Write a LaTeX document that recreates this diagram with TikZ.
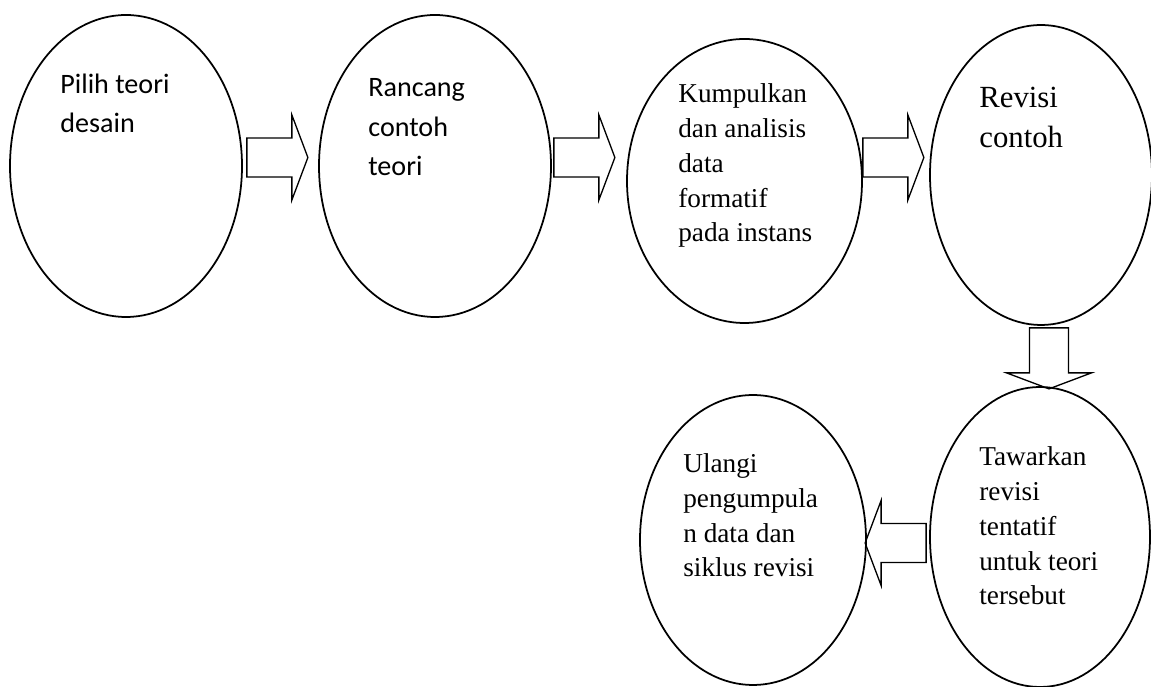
\documentclass[tikz,border=0pt]{standalone}
\usepackage{fontspec}
\setmainfont{Liberation Serif}
\newfontfamily\calibri{Carlito}
\usetikzlibrary{shapes.geometric,calc}

\tikzset{
  oval/.style={draw, ellipse, line width=1pt, inner sep=0pt},
  stepsans/.style={anchor=base west, align=left, inner sep=0pt, font=\calibri\fontsize{16}{22.5}\selectfont},
  stepserif/.style={anchor=base west, align=left, inner sep=0pt, font=\fontsize{15.5}{19.9}\selectfont},
  blockarrow/.style={draw, line width=0.75pt, line join=miter}
}
% hollow block arrow: start point, direction
\newcommand{\blockarr}[2]{%
  \begin{scope}[shift={(#1)}, rotate=#2]
    \draw[blockarrow] (0,0.39) -- (0.9,0.39) -- (0.9,0.85) -- (1.22,0) -- (0.9,-0.85) -- (0.9,-0.39) -- (0,-0.39) -- cycle;
  \end{scope}}

\begin{document}
\begin{tikzpicture}
\useasboundingbox (0,0) rectangle (23.02,13.74);
% steps
\node[oval, minimum width=4.64cm, minimum height=6.04cm] (e1) at (2.52,10.42) {};
\node[oval, minimum width=4.64cm, minimum height=6.04cm] (e2) at (8.70,10.42) {};
\node[oval, minimum width=4.70cm, minimum height=5.68cm] (e3) at (14.89,10.12) {};
\node[oval, minimum width=4.44cm, minimum height=6.00cm] (e4) at (20.82,10.24) {};
\node[oval, minimum width=4.40cm, minimum height=6.00cm] (e5) at (20.80,3.00) {};
\node[oval, minimum width=4.52cm, minimum height=5.80cm] (e6) at (15.06,2.94) {};

% texts, placed by the baseline of their last line
\node[stepsans] (t1) at (1.20,11.08) {Pilih teori\\desain};
\node[stepsans] (t2) at (7.36,10.22) {Rancang\\contoh\\teori};
\node[stepserif] (t3) at (13.56,8.90) {Kumpulkan\\dan analisis\\data\\formatif\\pada instans};
\node[stepserif, font=\fontsize{17.5}{23.3}\selectfont] (t4) at (19.58,10.78) {Revisi\\contoh};
\node[stepserif] (t5) at (19.58,1.64) {Tawarkan\\revisi\\tentatif\\untuk teori\\tersebut};
\node[stepserif] (t6) at (13.66,2.20) {Ulangi\\pengumpula\\n data dan\\siklus revisi};

% arrows
\blockarr{[shift={(0.08,0.17)}]e1.east}{0}
\blockarr{[shift={(0.04,0.17)}]e2.east}{0}
\blockarr{[shift={(0,0.47)}]e3.east}{0}
\blockarr{[shift={(0.16,-0.04)}]e4.south}{-90}
\blockarr{[shift={(-0.06,-0.12)}]e5.west}{180}
\end{tikzpicture}
\end{document}
